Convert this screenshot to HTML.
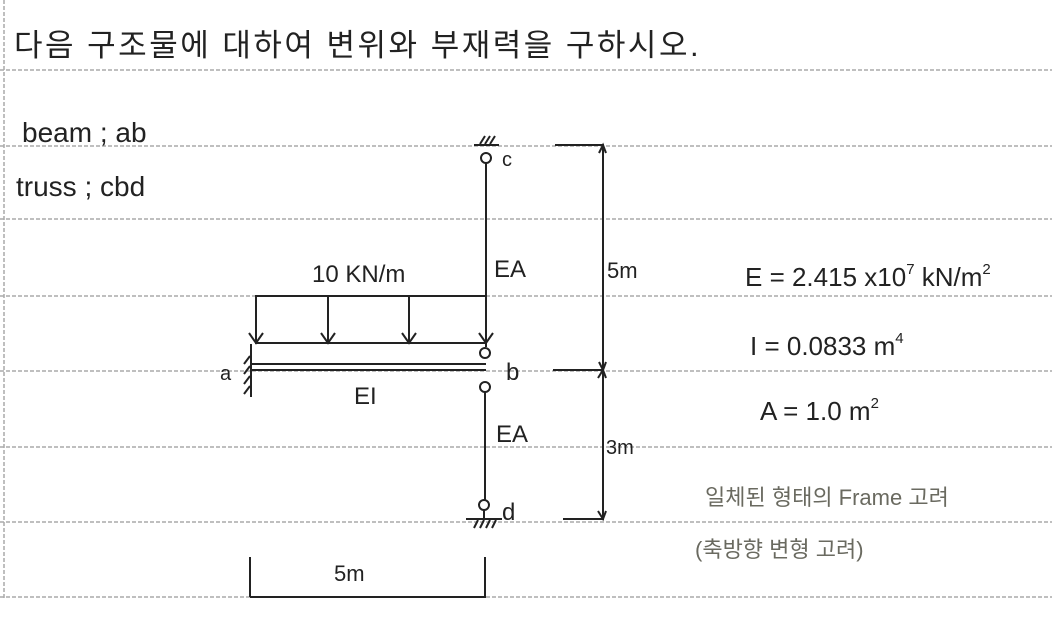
<!DOCTYPE html>
<html><head><meta charset="utf-8"><style>
html,body{margin:0;padding:0;background:#fff;}
svg{display:block}
text{font-family:"Liberation Sans","Noto Sans CJK KR",sans-serif;fill:#222}
</style></head><body>
<svg width="1052" height="630" viewBox="0 0 1052 630" xmlns="http://www.w3.org/2000/svg">
<rect width="1052" height="630" fill="#fff"/>
<g stroke="#aaa" stroke-width="1.5" stroke-dasharray="4 2">
<line x1="0" y1="70" x2="1052" y2="70"/>
<line x1="0" y1="146" x2="1052" y2="146"/>
<line x1="0" y1="219" x2="1052" y2="219"/>
<line x1="0" y1="296" x2="1052" y2="296"/>
<line x1="0" y1="371" x2="1052" y2="371"/>
<line x1="0" y1="447" x2="1052" y2="447"/>
<line x1="0" y1="522" x2="1052" y2="522"/>
<line x1="0" y1="597" x2="1052" y2="597"/>
<line x1="4" y1="0" x2="4" y2="600"/>
</g>
<text x="14" y="56" font-size="31" letter-spacing="2.5">다음 구조물에 대하여 변위와 부재력을 구하시오.</text>
<text x="22" y="142" font-size="28">beam ; ab</text>
<text x="16" y="196" font-size="28">truss ; cbd</text>
<g stroke="#222" stroke-width="2" fill="none">
<line x1="474" y1="145" x2="499" y2="145"/>
<path d="M480 144 l5 -8 M485 144 l5 -8 M490 144 l5 -8"/>
<circle cx="486" cy="158" r="5"/>
<line x1="486" y1="163" x2="486" y2="347"/>
<line x1="255" y1="296" x2="486" y2="296"/>
<line x1="255" y1="343" x2="486" y2="343"/>
<path d="M256 296 V343 M249 333 l7 10 l7 -10"/>
<path d="M328 296 V343 M321 333 l7 10 l7 -10"/>
<path d="M409 296 V343 M402 333 l7 10 l7 -10"/>
<path d="M486 296 V343 M479 333 l7 10 l7 -10"/>
<line x1="252" y1="364" x2="486" y2="364"/>
<line x1="252" y1="370" x2="486" y2="370"/>
<line x1="251" y1="344" x2="251" y2="397"/>
<path d="M250 356 l-6 8 M250 366 l-6 8 M250 376 l-6 8 M250 386 l-6 8"/>
<circle cx="485" cy="353" r="5"/>
<circle cx="485" cy="387" r="5"/>
<line x1="485" y1="392" x2="485" y2="500"/>
<circle cx="484" cy="505" r="5"/>
<line x1="484" y1="510" x2="484" y2="519"/>
<line x1="466" y1="519" x2="502" y2="519"/>
<path d="M474 528 l4 -8 M480 528 l4 -8 M486 528 l4 -8 M492 528 l4 -8"/>
<line x1="555" y1="145" x2="604" y2="145"/>
<line x1="553" y1="370" x2="604" y2="370"/>
<line x1="563" y1="519" x2="604" y2="519"/>
<line x1="603" y1="145" x2="603" y2="519"/>
<path d="M599 153 l4 -8 l3 8 M599 362 l4 8 l3 -8 M598 378 l5 -8 l3 8 M598 511 l5 8 l3 -8"/>
<line x1="250" y1="597" x2="486" y2="597"/>
<line x1="250" y1="557" x2="250" y2="597"/>
<line x1="485" y1="557" x2="485" y2="597"/>
</g>
<g font-size="24">
<text x="312" y="282">10 KN/m</text>
<text x="494" y="277">EA</text>
<text x="496" y="442">EA</text>
<text x="354" y="404">EI</text>
<text x="220" y="380" font-size="20">a</text>
<text x="506" y="380">b</text>
<text x="502" y="166" font-size="20">c</text>
<text x="502" y="520">d</text>
<text x="607" y="278" font-size="22">5m</text>
<text x="606" y="454" font-size="20">3m</text>
<text x="334" y="581" font-size="22">5m</text>
<text x="745" y="286" font-size="26">E = 2.415 x10<tspan dy="-12" font-size="15">7</tspan><tspan dy="12"> kN/m</tspan><tspan dy="-12" font-size="15">2</tspan></text>
<text x="750" y="355" font-size="26">I = 0.0833 m<tspan dy="-12" font-size="15">4</tspan></text>
<text x="760" y="420" font-size="26">A = 1.0 m<tspan dy="-12" font-size="15">2</tspan></text>
<text x="705" y="505" font-size="22" style="fill:#6a6a60">일체된 형태의 Frame 고려</text>
<text x="695" y="557" font-size="22" style="fill:#6a6a60">(축방향 변형 고려)</text>
</g>
</svg>
</body></html>
